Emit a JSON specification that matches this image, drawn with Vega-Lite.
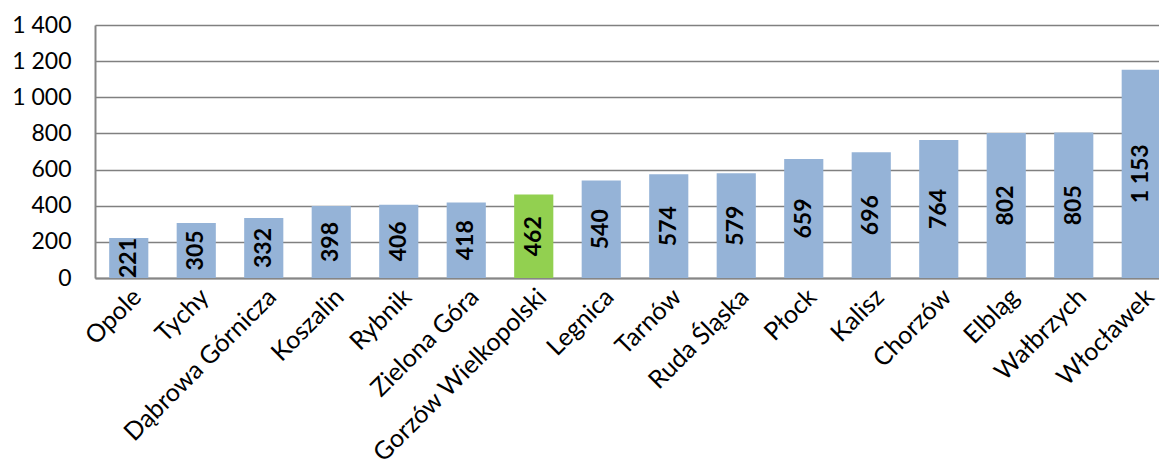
{
  "$schema": "https://vega.github.io/schema/vega-lite/v6.json",
  "autosize": {"type": "none"},
  "width": 1080,
  "height": 253,
  "padding": {"left": 95, "top": 25, "right": 0, "bottom": 190},
  "background": "white",
  "config": {
    "locale": {"number": {"decimal": ",", "thousands": " ", "grouping": [3], "currency": ["", " zł"]}},
    "font": "Lato",
    "view": {"stroke": null}
  },
  "data": {"values": [
    {"city": "Opole", "value": 221},
    {"city": "Tychy", "value": 305},
    {"city": "Dąbrowa Górnicza", "value": 332},
    {"city": "Koszalin", "value": 398},
    {"city": "Rybnik", "value": 406},
    {"city": "Zielona Góra", "value": 418},
    {"city": "Gorzów Wielkopolski", "value": 462},
    {"city": "Legnica", "value": 540},
    {"city": "Tarnów", "value": 574},
    {"city": "Ruda Śląska", "value": 579},
    {"city": "Płock", "value": 659},
    {"city": "Kalisz", "value": 696},
    {"city": "Chorzów", "value": 764},
    {"city": "Elbląg", "value": 802},
    {"city": "Wałbrzych", "value": 805},
    {"city": "Włocławek", "value": 1153}
  ]},
  "encoding": {
    "x": {
      "field": "city", "type": "nominal", "sort": null,
      "scale": {"paddingInner": 0.42, "paddingOuter": 0.21},
      "axis": {
        "title": null, "labelAngle": -45, "labelAlign": "right", "labelBaseline": "top",
        "labelFont": "Lato", "labelFontSize": 25, "labelColor": "#000000", "labelPadding": 6,
        "ticks": false, "domainColor": "#868686", "domainWidth": 2, "labelLimit": 400
      }
    }
  },
  "layer": [
    {
      "mark": {"type": "bar"},
      "encoding": {
        "y": {
          "field": "value", "type": "quantitative",
          "scale": {"domain": [0, 1400], "nice": false},
          "axis": {
            "title": null, "values": [0, 200, 400, 600, 800, 1000, 1200, 1400], "format": ",d",
            "labelFont": "Lato", "labelFontSize": 23, "labelColor": "#000000", "labelPadding": 24,
            "ticks": false, "domainColor": "#868686", "domainWidth": 2,
            "grid": true, "gridColor": "#808080", "gridWidth": 1.6
          }
        },
        "color": {
          "condition": {"test": "datum.city === 'Gorzów Wielkopolski'", "value": "#92D050"},
          "value": "#95B3D7"
        }
      }
    },
    {
      "mark": {"type": "text", "angle": 270, "align": "center", "baseline": "middle", "fontWeight": "bold", "fontSize": 23, "font": "Lato", "color": "#000000"},
      "encoding": {
        "y": {
          "field": "value", "type": "quantitative",
          "scale": {"domain": [0, 2800], "nice": false},
          "axis": null
        },
        "text": {"field": "value", "type": "quantitative", "format": ",d"}
      }
    }
  ],
  "resolve": {"scale": {"y": "independent"}}
}
